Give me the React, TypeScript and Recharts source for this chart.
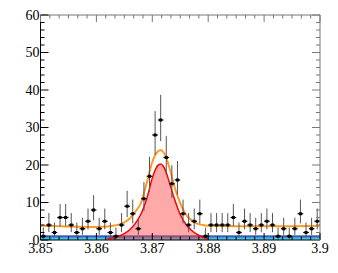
import { ComposedChart, XAxis, YAxis, Area, Line, Scatter, ErrorBar } from "recharts"

// histogram: 50 bins of 1 MeV between 3.85 and 3.90
const binLow = 3.85
const binWidth = 0.001
const counts = [
  1, 4, 2, 6, 6, 4, 2, 3, 5, 8, 3, 5, 2, 1, 4, 9, 7, 3, 11, 17, 28, 32, 22, 15, 16,
  7, 4, 5, 7, 1, 4, 4, 4, 4, 6, 2, 5, 4, 3, 4, 5, 4, 1, 3, 1, 3, 7, 2, 3, 5,
]

// fitted total (orange)
const totalX = [
  3.85, 3.855, 3.86, 3.862, 3.863, 3.864, 3.865, 3.866, 3.867, 3.868, 3.869, 3.87, 3.8705,
  3.871, 3.8715, 3.872, 3.8725, 3.873, 3.874, 3.875, 3.876, 3.877, 3.878, 3.879, 3.88,
  3.885, 3.89, 3.895, 3.9,
]
const totalY = [
  3.8, 3.6, 3.5, 3.6, 3.8, 4.1, 4.7, 5.8, 7.6, 10.0, 15.2, 20.8, 22.6, 23.6, 24.0, 23.4,
  22.0, 19.6, 14.0, 9.8, 6.8, 5.3, 4.4, 4.0, 3.8, 3.7, 3.7, 3.7, 3.8,
]

// signal component (red, filled)
const signalX = [
  3.862, 3.863, 3.864, 3.865, 3.866, 3.867, 3.868, 3.869, 3.87, 3.8705, 3.871, 3.8715,
  3.872, 3.8725, 3.873, 3.874, 3.875, 3.876, 3.877, 3.878, 3.879, 3.88,
]
const signalY = [
  0.3, 0.6, 1.0, 1.7, 2.8, 4.5, 7.0, 11.0, 16.5, 18.6, 19.9, 20.3, 19.6, 18.0, 15.6,
  10.8, 6.8, 4.2, 2.6, 1.5, 0.8, 0.4,
]

// flat background components at the bottom
const bgX = [3.85, 3.9]
const bgBlue = [1.1, 1.1]
const bgCyan = [0.55, 0.55]

const xTicks = Array.from({ length: 31 }, (_, i) => +(3.85 + i * (0.01 / 6)).toFixed(5))
const yTicks = Array.from({ length: 31 }, (_, i) => i * 2)

// Poisson (Gehrels) errors from the counts
function poisErr(n: number): [number, number] {
  const up = 1 + Math.sqrt(n + 0.75)
  const lo = n > 0 ? n - n * Math.pow(1 - 1 / (9 * n) - 1 / (3 * Math.sqrt(n)), 3) : 0
  return [lo, up]
}

const points = counts.map((c, i) => ({
  x: binLow + (i + 0.5) * binWidth,
  y: c,
  yerr: poisErr(c),
  xerr: binWidth / 2,
}))
const totalData = totalX.map((x, i) => ({ x, y: totalY[i] }))
const signalData = signalX.map((x, i) => ({ x, y: signalY[i] }))
const bgData = bgX.map((x, i) => ({ x, blue: bgBlue[i], cyan: bgCyan[i] }))

const serif = "Liberation Serif, Times New Roman, DejaVu Serif, serif"
const isMajorX = (v: number) => Math.abs(Math.round(v * 100) - v * 100) < 1e-6
const fmtX = (v: number) => String(Number(v.toFixed(2)))

function BottomTick({ x, y, payload }: any) {
  const major = isMajorX(payload.value)
  return (
    <g>
      <line x1={x} x2={x} y1={y} y2={y - (major ? 7 : 3.5)} stroke="#000" />
      {major && (
        <text x={x} y={y + 13} textAnchor="middle" fontFamily={serif} fontSize={14} fill="#000">
          {fmtX(payload.value)}
        </text>
      )}
    </g>
  )
}

function TopTick({ x, y, payload }: any) {
  const major = isMajorX(payload.value)
  return <line x1={x} x2={x} y1={y} y2={y + (major ? 7 : 3.5)} stroke="#777" />
}

function LeftTick({ x, y, payload }: any) {
  const major = payload.value % 10 === 0
  return (
    <g>
      <line x1={x} x2={x + (major ? 8 : 4)} y1={y} y2={y} stroke="#000" />
      {major && (
        <text x={x - 1} y={y + 4.5} textAnchor="end" fontFamily={serif} fontSize={14} fill="#000">
          {payload.value}
        </text>
      )}
    </g>
  )
}

function RightTick({ x, y, payload }: any) {
  const major = payload.value % 10 === 0
  return <line x1={x} x2={x - (major ? 8 : 4)} y1={y} y2={y} stroke="#777" />
}

function Dot({ cx, cy }: any) {
  return <rect x={cx - 1.5} y={cy - 1.5} width={3} height={3} fill="#000" />
}

export default function App() {
  return (
    <div style={{ position: "absolute", left: 0, top: 0, background: "#fff", fontFamily: serif }}>
      <ComposedChart width={338} height={273} margin={{ top: 0, right: 0, bottom: 0, left: 0 }}>
        <XAxis
          xAxisId="b"
          dataKey="x"
          type="number"
          domain={[3.85, 3.9]}
          allowDataOverflow
          ticks={xTicks}
          interval={0}
          height={33}
          tickSize={0}
          tickMargin={0}
          tick={(p: any) => <BottomTick {...p} />}
          axisLine={{ stroke: "#000" }}
        />
        <XAxis
          xAxisId="t"
          orientation="top"
          dataKey="x"
          type="number"
          domain={[3.85, 3.9]}
          allowDataOverflow
          ticks={xTicks}
          interval={0}
          height={15}
          tickSize={0}
          tickMargin={0}
          tick={(p: any) => <TopTick {...p} />}
          axisLine={{ stroke: "#777" }}
        />
        <YAxis
          yAxisId="l"
          type="number"
          domain={[0, 60]}
          allowDataOverflow
          ticks={yTicks}
          interval={0}
          width={40.5}
          tickSize={0}
          tickMargin={0}
          tick={(p: any) => <LeftTick {...p} />}
          axisLine={{ stroke: "#000" }}
        />
        <YAxis
          yAxisId="r"
          orientation="right"
          type="number"
          domain={[0, 60]}
          allowDataOverflow
          ticks={yTicks}
          interval={0}
          width={18}
          tickSize={0}
          tickMargin={0}
          tick={(p: any) => <RightTick {...p} />}
          axisLine={{ stroke: "#777" }}
        />
        <Line
          xAxisId="t"
          yAxisId="r"
          data={totalData}
          dataKey="y"
          stroke="none"
          dot={false}
          isAnimationActive={false}
        />
        <Area
          xAxisId="b"
          yAxisId="l"
          data={bgData}
          dataKey="blue"
          type="linear"
          fill="#4466cc"
          fillOpacity={1}
          stroke="#3344aa"
          strokeWidth={1}
          isAnimationActive={false}
        />
        <Area
          xAxisId="b"
          yAxisId="l"
          data={bgData}
          dataKey="cyan"
          type="linear"
          fill="#44ccee"
          fillOpacity={1}
          stroke="#33bbdd"
          strokeWidth={1}
          isAnimationActive={false}
        />
        <Area
          xAxisId="b"
          yAxisId="l"
          data={signalData}
          dataKey="y"
          type="monotone"
          fill="#ff4040"
          fillOpacity={0.45}
          stroke="#ff0000"
          strokeWidth={1.5}
          isAnimationActive={false}
        />
        <Line
          xAxisId="b"
          yAxisId="l"
          data={totalData}
          dataKey="y"
          type="monotone"
          stroke="#ff9922"
          strokeWidth={2}
          dot={false}
          isAnimationActive={false}
        />
        <Scatter
          xAxisId="b"
          yAxisId="l"
          data={points}
          dataKey="y"
          shape={(p: any) => <Dot {...p} />}
          isAnimationActive={false}
        >
          <ErrorBar dataKey="yerr" direction="y" width={0} stroke="#555" strokeWidth={1} />
          <ErrorBar dataKey="xerr" direction="x" width={0} stroke="#000" strokeWidth={1.2} />
        </Scatter>
      </ComposedChart>
    </div>
  )
}
